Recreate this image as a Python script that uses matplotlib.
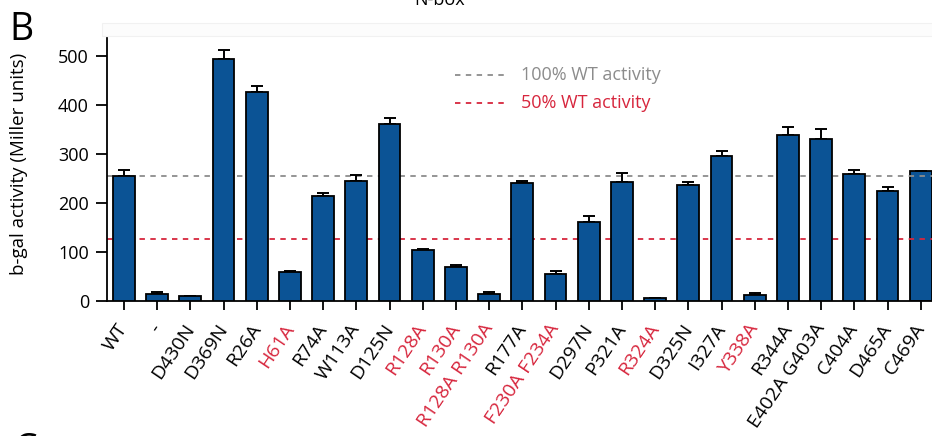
import matplotlib.pyplot as plt
from matplotlib.patches import Rectangle
import numpy as np

plt.rcParams['font.family'] = ['Open Sans', 'DejaVu Sans']

# beta-galactosidase activity per construct (Miller units), mean and upper error
labels = ['WT', '-', 'D430N', 'D369N', 'R26A', 'H61A', 'R74A', 'W113A', 'D125N',
          'R128A', 'R130A', 'R128A R130A', 'R177A', 'F230A F234A', 'D297N', 'P321A',
          'R324A', 'D325N', 'I327A', 'Y338A', 'R344A', 'E402A G403A', 'C404A',
          'D465A', 'C469A']
activity = [255, 15, 10, 495, 427, 60, 215, 246, 361, 105, 70, 14, 241, 55, 162,
            242, 6, 237, 297, 12, 338, 331, 260, 224, 265]
sem = [12, 4, 1, 17, 13, 1, 5, 12, 12, 1, 3, 5, 3, 7, 11, 20, 1, 6, 9, 5, 17, 20,
       8, 9, 0]
# mutants below 50% of WT get red tick labels
red_labels = ['H61A', 'R128A', 'R130A', 'R128A R130A', 'F230A F234A', 'R324A', 'Y338A']

bar_blue = '#0b5395'
grey = '#8c8c8c'
red = '#d7263d'

fig = plt.figure(figsize=(9.32, 4.36), dpi=100)
ax = fig.add_axes([107 / 932, 135 / 436, 1 - 107 / 932, 263 / 436])

x = np.arange(len(labels))
wt = activity[0]

# reference levels
ax.axhline(wt, color=grey, ls=(0, (3, 3)), lw=1.3, zorder=2)
ax.axhline(wt / 2, color=red, ls=(0, (3, 3)), lw=1.3, zorder=2)

bars = ax.bar(x, activity, width=0.66, color=bar_blue, edgecolor='black',
              linewidth=1.3, zorder=3)
bars[-1].set_zorder(1)
ax.errorbar(x, activity, yerr=[np.zeros(len(sem)), sem], fmt='none',
            ecolor='black', elinewidth=1.4, capsize=4.5, capthick=1.4, zorder=2.5)

ax.set_xlim(-0.51, 24.34)
ax.set_ylim(0, 537)
ax.set_yticks([0, 100, 200, 300, 400, 500])
ax.set_xticks(x)
ax.set_xticklabels(labels, rotation=56, ha='right', va='center',
                   rotation_mode='anchor', fontsize=14)
for t in ax.get_xticklabels():
    if t.get_text() in red_labels:
        t.set_color(red)

ax.spines['top'].set_visible(False)
ax.spines['right'].set_visible(False)
ax.spines['left'].set_linewidth(1.3)
ax.spines['bottom'].set_linewidth(1.3)
ax.tick_params(axis='x', length=6.5, width=1.3, pad=11)
ax.tick_params(axis='y', length=8, width=1.3, pad=5, labelsize=13)
ax.set_ylabel('b-gal activity (Miller units)', fontsize=13.5)
ax.yaxis.set_label_coords(-0.096, 0.52)

# legend for the dashed levels
ax.plot([9.97, 11.48], [461, 461], color=grey, ls=(0, (3, 3)), lw=1.3, clip_on=False)
ax.text(11.95, 461, '100% WT activity', color=grey, fontsize=13, va='center')
ax.plot([9.97, 11.48], [404, 404], color=red, ls=(0, (3, 3)), lw=1.3, clip_on=False)
ax.text(11.95, 404, '50% WT activity', color=red, fontsize=13, va='center')

# panel furniture
fig.patches.append(Rectangle((102 / 932, 1 - 36 / 436), 1, 13 / 436,
                             transform=fig.transFigure, facecolor='#fcfcfc',
                             edgecolor='#f1f1f1', lw=0.8, zorder=0))
fig.text(440 / 932, 1 - 5 / 436, 'N-box', ha='center', va='baseline', fontsize=13)
fig.text(9 / 932, 1 - 40 / 436, 'B', fontsize=27, va='baseline')
fig.text(14 / 932, 4 / 436, 'C', fontsize=27, va='top')

fig.savefig('out.png', dpi=100)
